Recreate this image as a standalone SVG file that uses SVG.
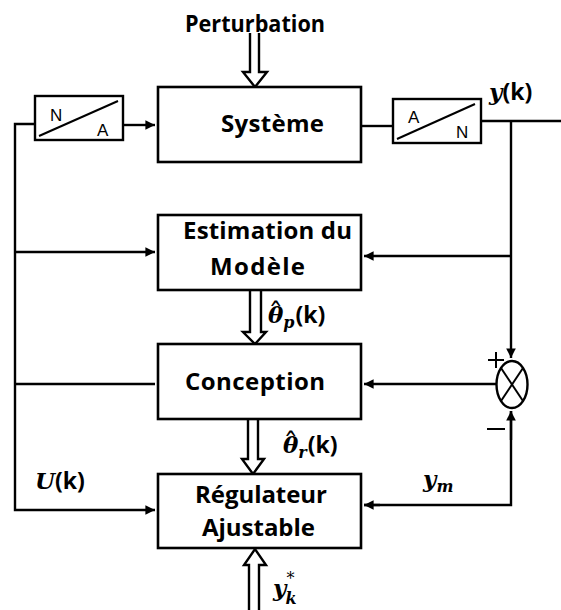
<svg xmlns="http://www.w3.org/2000/svg" width="561" height="610" viewBox="0 0 561 610">
  <style>
    .box { fill: #fff; stroke: #000; stroke-width: 2.6; }
    .conv { fill: #fff; stroke: #000; stroke-width: 2.4; }
    .wire { fill: none; stroke: #000; stroke-width: 2.4; }
    .thin { fill: none; stroke: #000; stroke-width: 2; }
    .big { fill: none; stroke: #000; stroke-width: 2.4; stroke-linejoin: miter; }
    .lbl { font-family: "Open Sans", Lato, sans-serif; font-weight: bold; font-size: 24px; fill: #000; }
    .cv { font-family: "Liberation Sans", Arial, sans-serif; font-size: 17px; fill: #000; }
    .m { font-family: "DejaVu Serif", "Liberation Serif", serif; font-weight: bold; font-style: italic; font-size: 23px; fill: #000; }
    .sub { font-size: 16px; }
    .k { font-family: "Open Sans", Lato, sans-serif; font-weight: bold; font-style: normal; font-size: 23px; }
    .hat { font-style: normal; font-weight: normal; font-size: 30px; }
  </style>
  <defs>
    <marker id="ah" viewBox="0 0 10 10" refX="10" refY="5" markerWidth="4" markerHeight="4" orient="auto" markerUnits="strokeWidth">
      <path d="M0,0 L10,5 L0,10 z" fill="#000"/>
    </marker>
  </defs>

  <!-- signal wires -->
  <g id="connectors">
    <!-- control line feeding back to the left -->
    <polyline class="wire" points="35,124 15,124 15,510 155,510" marker-end="url(#ah)"/>
    <line class="wire" x1="123" y1="125" x2="155" y2="125" marker-end="url(#ah)"/>
    <line class="wire" x1="15" y1="252" x2="155" y2="252" marker-end="url(#ah)"/>
    <line class="wire" x1="15" y1="384" x2="155" y2="384"/>
    <!-- plant output and its branches -->
    <line class="wire" x1="361" y1="126" x2="393" y2="126"/>
    <line class="wire" x1="481" y1="121" x2="561" y2="121"/>
    <line class="wire" x1="511" y1="121" x2="511" y2="358" marker-end="url(#ah)"/>
    <line class="wire" x1="511" y1="256" x2="364" y2="256" marker-end="url(#ah)"/>
    <line class="wire" x1="497" y1="384" x2="364" y2="384" marker-end="url(#ah)"/>
    <!-- reference model output -->
    <polyline class="wire" points="364,505 511,505 511,411"/>
    <line class="wire" x1="511" y1="440" x2="511" y2="411" marker-end="url(#ah)"/>
    <line class="wire" x1="380" y1="505" x2="364" y2="505" marker-end="url(#ah)"/>
    <!-- hollow arrows -->
    <polyline class="big" points="250,33 250,72 243,72 255,87 267,72 259,72 259,33"/>
    <polyline class="big" points="250,291 250,332 243,332 255,344 266,332 261,332 261,291"/>
    <polyline class="big" points="248,420 248,459 242,459 253,474 264,459 258,459 258,420"/>
    <polyline class="big" points="249,610 249,565 244,565 255,549 266,565 259,565 259,610"/>
  </g>

  <g id="perturbation">
    <text class="lbl" x="185" y="32" font-size="20" textLength="140" lengthAdjust="spacingAndGlyphs">Perturbation</text>
  </g>

  <g id="dac">
    <rect class="conv" x="35" y="96" width="88" height="44"/>
    <line class="thin" x1="39" y1="136" x2="118" y2="101"/>
    <text class="cv" x="50" y="121">N</text>
    <text class="cv" x="97" y="136">A</text>
  </g>

  <g id="systeme">
    <rect class="box" x="158" y="87" width="203" height="75"/>
    <text class="lbl" x="221" y="132" textLength="103">Système</text>
  </g>

  <g id="adc">
    <rect class="conv" x="393" y="99" width="88" height="44"/>
    <line class="thin" x1="397" y1="139" x2="475" y2="104"/>
    <text class="cv" x="408" y="123">A</text>
    <text class="cv" x="456" y="138">N</text>
  </g>

  <g id="sortie">
    <text class="m" x="489" y="100" font-size="25">y<tspan class="k" font-size="24">(k)</tspan></text>
  </g>

  <g id="estimation">
    <rect class="box" x="158" y="215" width="203" height="75"/>
    <text class="lbl" x="183" y="239" textLength="169">Estimation du</text>
    <text class="lbl" x="210" y="275" textLength="95">Modèle</text>
  </g>

  <g id="theta-p">
    <text class="m" x="268" y="323">θ<tspan class="hat" dx="-15" dy="1">ˆ</tspan><tspan class="sub" dx="0" dy="4">p</tspan><tspan class="k" dx="1" dy="-5">(k)</tspan></text>
  </g>

  <g id="conception">
    <rect class="box" x="158" y="344" width="203" height="75"/>
    <text class="lbl" x="185" y="390" textLength="140">Conception</text>
  </g>

  <g id="comparateur">
    <ellipse class="wire" cx="512" cy="384.5" rx="15.5" ry="23.5"/>
    <line class="thin" x1="501" y1="368" x2="523" y2="401"/>
    <line class="thin" x1="523" y1="368" x2="501" y2="401"/>
    <line class="thin" x1="488" y1="360" x2="504" y2="360"/>
    <line class="thin" x1="496" y1="352" x2="496" y2="368"/>
    <line class="thin" x1="487" y1="429" x2="505" y2="429"/>
  </g>

  <g id="theta-r">
    <text class="m" x="283" y="453">θ<tspan class="hat" dx="-15" dy="1">ˆ</tspan><tspan class="sub" dx="0" dy="4">r</tspan><tspan class="k" dx="1" dy="-5">(k)</tspan></text>
  </g>

  <g id="regulateur">
    <rect class="box" x="158" y="474" width="203" height="74"/>
    <text class="lbl" x="195" y="503" textLength="132">Régulateur</text>
    <text class="lbl" x="202" y="536" textLength="113">Ajustable</text>
  </g>

  <g id="commande">
    <text class="m" x="35" y="489">U<tspan class="k">(k)</tspan></text>
  </g>

  <g id="modele-ref">
    <text class="m" x="423" y="487" font-size="25">y<tspan class="sub" dy="5">m</tspan></text>
  </g>

  <g id="consigne">
    <text class="m" x="273" y="596" font-size="25">y<tspan class="sub" dy="-12" font-style="normal" font-weight="normal">*</tspan><tspan class="sub" dx="-9" dy="20">k</tspan></text>
  </g>
</svg>
